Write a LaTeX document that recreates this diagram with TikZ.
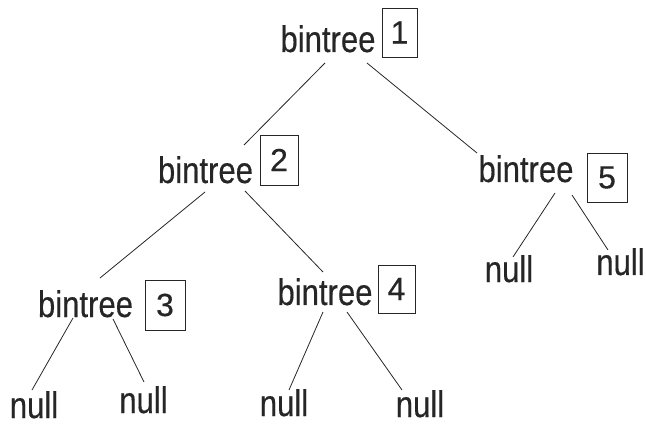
\documentclass[tikz,border=0pt]{standalone}
\usepackage{fontspec}
\newfontfamily\treefont[FakeStretch=0.84,FakeBold=0.4]{Liberation Sans}
\newfontfamily\numfont[FakeBold=0.4]{Liberation Sans}
\begin{document}
\begin{tikzpicture}[x=1pt,y=-1pt,
  word/.style={inner sep=0pt,anchor=base,text=black!85,font=\treefont\fontsize{37}{40}\selectfont},
  num/.style={draw=black!85,line width=0.8pt,inner sep=0pt,text=black!85,font=\numfont\fontsize{32}{34}\selectfont},
  edge/.style={draw=black!85,line width=0.8pt}]
\useasboundingbox (0,0) rectangle (646,425);

% tree labels
\node[word] (t1) at (328,52) {bintree};
\node[word] (t2) at (205.5,183) {bintree};
\node[word] (t5) at (526,182) {bintree};
\node[word] (t3) at (85.5,317) {bintree};
\node[word] (t4) at (325,305) {bintree};

% numbered boxes
\node[num,minimum width=35pt,minimum height=49pt] (b1) at (399.5,32.5) {1};
\node[num,minimum width=38pt,minimum height=50pt] (b2) at (279,160) {2};
\node[num,minimum width=40pt,minimum height=49pt] (b5) at (607,177.5) {5};
\node[num,minimum width=40pt,minimum height=50pt] (b3) at (165,305) {3};
\node[num,minimum width=37pt,minimum height=48pt] (b4) at (396.5,289) {4};

% leaves
\node[word] (n1) at (34,418) {null};
\node[word] (n2) at (143.5,413) {null};
\node[word] (n3) at (284,416) {null};
\node[word] (n4) at (420,417) {null};
\node[word] (n5) at (509,282) {null};
\node[word] (n6) at (620.5,275) {null};

% branches
\draw[edge] ([shift={(-3,11)}]t1.base) -- ([shift={(38.5,-38)}]t2.base);
\draw[edge] ([shift={(39,11)}]t1.base) -- ([shift={(-49,-29)}]t5.base);
\draw[edge] ([shift={(-0.5,9)}]t2.base) -- ([shift={(14.5,-39)}]t3.base);
\draw[edge] ([shift={(39.5,8)}]t2.base) -- ([shift={(-2,-33)}]t4.base);
\draw[edge] ([shift={(-12.5,1)}]t3.base) -- ([shift={(-2,-28)}]n1.base);
\draw[edge] ([shift={(27.5,2)}]t3.base) -- ([shift={(0.5,-31)}]n2.base);
\draw[edge] ([shift={(-2,7)}]t4.base) -- ([shift={(5,-26)}]n3.base);
\draw[edge] ([shift={(22,7)}]t4.base) -- ([shift={(-18,-27)}]n4.base);
\draw[edge] ([shift={(29,11)}]t5.base) -- ([shift={(4,-25)}]n5.base);
\draw[edge] ([shift={(46,13)}]t5.base) -- ([shift={(-12.5,-25)}]n6.base);
\end{tikzpicture}
\end{document}
